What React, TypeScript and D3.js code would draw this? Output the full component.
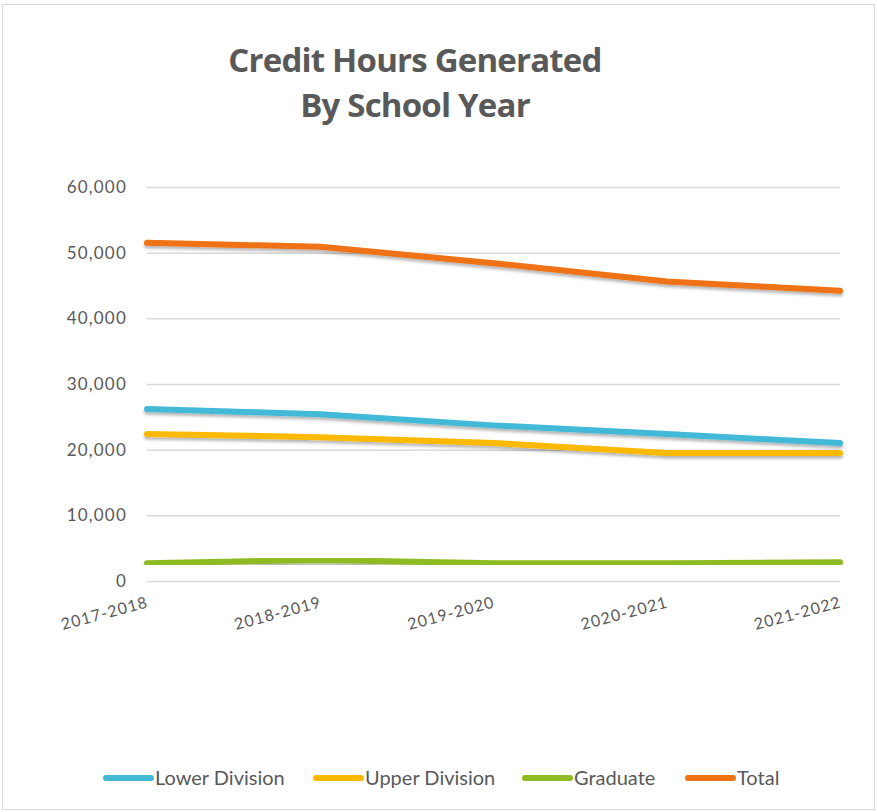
import React, { useEffect, useRef } from 'react';
import * as d3 from 'd3';

const years = ['2017-2018', '2018-2019', '2019-2020', '2020-2021', '2021-2022'];
const lowerDivision = [26200, 25400, 23700, 22400, 21000];
const upperDivision = [22400, 21900, 21000, 19500, 19500];
const graduate = [2700, 3200, 2700, 2700, 2850];
const total = [51500, 50900, 48400, 45600, 44200];
const yTicks = [0, 10000, 20000, 30000, 40000, 50000, 60000];

const seriesNames = ['Lower Division', 'Upper Division', 'Graduate', 'Total'];
const seriesColors = ['#43b9d6', '#fbb901', '#8fbb24', '#ef7212'];

const App = () => {
  const ref = useRef<SVGSVGElement>(null);

  useEffect(() => {
    const svg = d3.select(ref.current);
    svg.selectAll('*').remove();

    const textColor = '#595959';
    const bodyFont = 'Lato, "Open Sans", sans-serif';

    // frame
    svg.append('rect')
      .attr('x', 2.5).attr('y', 4.5)
      .attr('width', 872).attr('height', 805)
      .attr('fill', '#fff')
      .attr('stroke', '#d9d9d9');

    const defs = svg.append('defs');
    defs.append('filter')
      .attr('id', 'shadow')
      .attr('x', '-5%').attr('y', '-50%').attr('width', '110%').attr('height', '200%')
      .append('feDropShadow')
      .attr('dx', 0).attr('dy', 2.5)
      .attr('stdDeviation', 1.5)
      .attr('flood-color', '#000')
      .attr('flood-opacity', 0.3);

    // title
    const title = svg.append('text')
      .attr('text-anchor', 'middle')
      .attr('font-family', '"Open Sans", sans-serif')
      .attr('font-weight', 'bold')
      .attr('font-size', 33)
      .attr('letter-spacing', -0.8)
      .attr('fill', textColor);
    title.append('tspan').attr('x', 415).attr('y', 72).text('Credit Hours Generated');
    title.append('tspan').attr('x', 415).attr('y', 117).text('By School Year');

    const x = d3.scalePoint<string>().domain(years).range([147, 840]);
    const y = d3.scaleLinear().domain([0, 60000]).range([581, 187]);

    // gridlines + y labels
    const yAxis = d3.axisLeft(y)
      .tickValues(yTicks)
      .tickSize(-(840 - 147))
      .tickPadding(20)
      .tickFormat(d => d3.format(',')(d as number));
    const yg = svg.append('g')
      .attr('transform', 'translate(147,0)')
      .call(yAxis);
    yg.select('.domain').remove();
    yg.selectAll('.tick line').attr('stroke', '#d9d9d9').attr('stroke-width', 1.5);
    yg.selectAll('.tick text')
      .attr('fill', textColor)
      .attr('font-family', bodyFont)
      .attr('font-size', 17)
      .attr('letter-spacing', 1.2);

    // x labels
    svg.append('g')
      .selectAll('text')
      .data(years)
      .join('text')
      .attr('transform', d => `translate(${x(d)! + 2},${607}) rotate(-15)`)
      .attr('text-anchor', 'end')
      .attr('fill', textColor)
      .attr('font-family', bodyFont)
      .attr('font-size', 16)
      .attr('letter-spacing', 1)
      .text(d => d);

    const allSeries = [lowerDivision, upperDivision, graduate, total];
    const line = d3.line<number>()
      .x((_, i) => x(years[i])!)
      .y(d => y(d));

    svg.append('g')
      .selectAll('path')
      .data(allSeries)
      .join('path')
      .attr('d', d => line(d))
      .attr('fill', 'none')
      .attr('stroke', (_, i) => seriesColors[i])
      .attr('stroke-width', 6)
      .attr('stroke-linecap', 'round')
      .attr('stroke-linejoin', 'round')
      .attr('filter', 'url(#shadow)');

    // legend
    const legendX = [103, 313, 522, 685];
    const legend = svg.append('g')
      .selectAll('g')
      .data(seriesNames)
      .join('g')
      .attr('transform', (_, i) => `translate(${legendX[i]},778)`);
    legend.append('line')
      .attr('x1', 3).attr('x2', 48)
      .attr('stroke', (_, i) => seriesColors[i])
      .attr('stroke-width', 6)
      .attr('stroke-linecap', 'round');
    legend.append('text')
      .attr('x', 52)
      .attr('y', 7)
      .attr('fill', textColor)
      .attr('font-family', bodyFont)
      .attr('font-size', 20)
      .text(d => d);
  }, []);

  return (
    <svg ref={ref} width={877} height={812}
      style={{ position: 'absolute', left: 0, top: 0 }} />
  );
};

export default App;
